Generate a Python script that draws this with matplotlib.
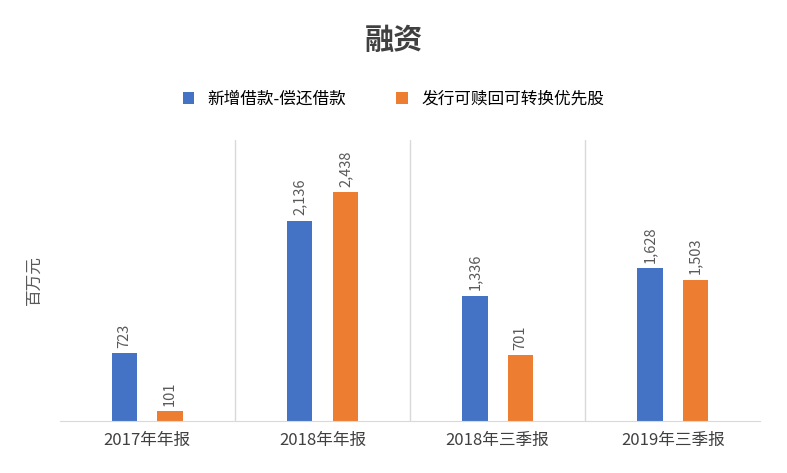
import matplotlib
matplotlib.use("Agg")
import matplotlib.pyplot as plt
import numpy as np

plt.rcParams['font.family'] = ['Noto Sans CJK SC', 'DejaVu Sans']

categories = ["2017年年报", "2018年年报", "2018年三季报", "2019年三季报"]
series_names = ["新增借款-偿还借款", "发行可赎回可转换优先股"]
loans = [723, 2136, 1336, 1628]
prefs = [101, 2438, 701, 1503]
colors = ["#4472C4", "#ED7D31"]

fig = plt.figure(figsize=(7.87, 4.73), dpi=100)
ax = fig.add_axes([0.076, 0.11, 0.89, 0.595])
x = np.arange(len(categories))
w = 0.145
for vals, off, c, name in [(loans, -0.13, colors[0], series_names[0]), (prefs, 0.13, colors[1], series_names[1])]:
    bars = ax.bar(x + off, vals, w, color=c, label=name)
    for b, v in zip(bars, vals):
        ax.text(b.get_x() + b.get_width() / 2, v + 60, f"{v:,}", rotation=90,
                ha='center', va='bottom', fontsize=10.5, color='#595959')

ax.set_xlim(-0.5, len(categories) - 0.5)
ax.set_ylim(0, 3000)
ax.set_yticks([])
ax.set_xticks(x)
ax.set_xticklabels(categories, fontsize=12, color='#404040')
ax.tick_params(axis='x', length=0, pad=8)
for i in range(1, len(categories)):
    ax.axvline(i - 0.5, color='#d9d9d9', lw=1)
for s in ['top', 'right', 'left']:
    ax.spines[s].set_visible(False)
ax.spines['bottom'].set_color('#d9d9d9')
ax.set_ylabel("百万元", fontsize=12, color='#595959', labelpad=12)

fig.text(0.5, 0.915, "融资", ha='center', va='center', fontsize=21, fontweight='bold', color='#404040')
fig.legend(loc='center', bbox_to_anchor=(0.5, 0.79), ncol=2, frameon=False, fontsize=12,
           handlelength=0.7, handleheight=0.7, columnspacing=3)
fig.savefig("out.png", dpi=100)
